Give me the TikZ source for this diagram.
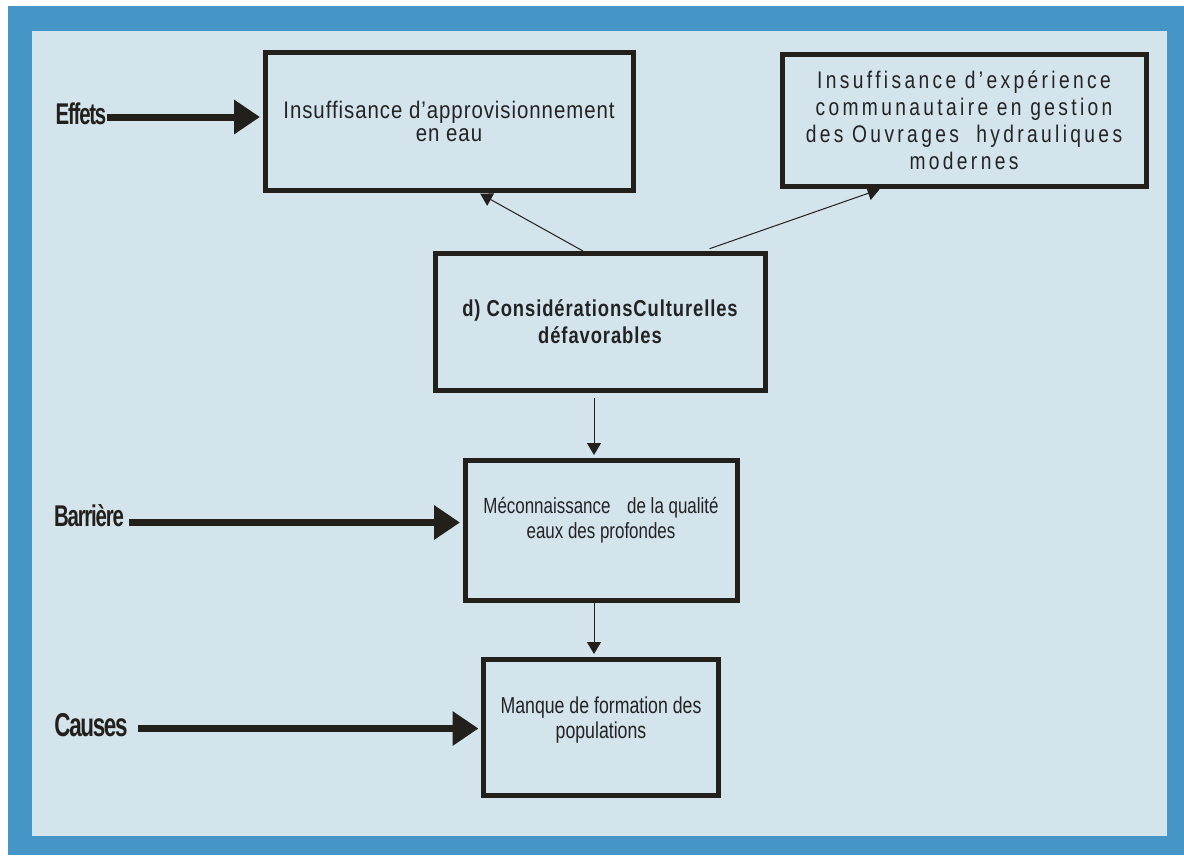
\documentclass[tikz,border=0pt]{standalone}
\usepackage{fontspec}
\setmainfont{Liberation Sans}
\newfontfamily\boxfont[FakeStretch=0.85,LetterSpace=4]{Liberation Sans}
\newfontfamily\spacedfont[FakeStretch=0.8,LetterSpace=14]{Liberation Sans}
\newfontfamily\grasfont[FakeStretch=0.8,LetterSpace=4]{Liberation Sans Bold}
\newfontfamily\narrowfont[FakeStretch=0.77]{Liberation Sans}
\newfontfamily\labfont[FakeStretch=0.68,LetterSpace=-4]{Liberation Sans Bold}
\usepackage{tikz}
\usetikzlibrary{arrows.meta,calc,positioning}
\definecolor{cadre}{RGB}{69,150,198}
\definecolor{fond}{RGB}{211,228,236}
\definecolor{trait}{RGB}{35,31,27}
\definecolor{texte}{RGB}{35,35,35}

\begin{document}
\begin{tikzpicture}[x=1pt,y=-1pt,
  boite/.style={draw=trait, line width=5pt, rectangle, align=center, text=texte, inner sep=0pt},
  lien/.style={draw=trait, line width=1pt, -{Triangle[length=12pt,width=14pt]}},
  gros/.style={draw=trait, line width=7pt, -{Triangle[length=26pt,width=33pt]}},
  etiq/.style={text=trait, font=\labfont\fontsize{30}{30}\selectfont, inner sep=0pt}]
% Cadre
\fill[white] (0,0) rectangle (1184,855);
\fill[cadre] (8,6) rectangle (1184,855);
\fill[fond] (32,31) rectangle (1167,836);
\useasboundingbox (0,0) rectangle (1184,855);

% Boîtes
\node[boite, minimum width=368pt, minimum height=138pt, font=\boxfont\fontsize{24}{23}\selectfont] (b1) at (449,121) {Insuffisance d’approvisionnement\\en eau};
\node[boite, minimum width=364pt, minimum height=132pt, font=\spacedfont\fontsize{24}{27}\selectfont] (b2) at (964,120) {Insuffisance d’expérience\\communautaire en gestion\\des Ouvrages\ \ hydrauliques\\modernes};
\node[boite, minimum width=330pt, minimum height=137pt, font=\grasfont\fontsize{23}{27}\selectfont] (b3) at (600,322) {d) ConsidérationsCulturelles\\défavorables};
\node[boite, minimum width=272pt, minimum height=140pt, text depth=25pt, font=\narrowfont\fontsize{22}{25}\selectfont] (b4) at (601,530) {Méconnaissance\hspace{12pt} de la qualité\\eaux des profondes};
\node[boite, minimum width=235pt, minimum height=136pt, text depth=19pt, font=\narrowfont\fontsize{23}{25}\selectfont] (b5) at (601,727) {Manque de formation des\\populations};

% Etiquettes
\node[etiq] (eff) at (81,114) {Effets};
\node[etiq] (bar) at (89,516) {Barrière};
\node[etiq, font=\labfont\fontsize{33}{33}\selectfont] (cau) at (91,725) {Causes};

% Flèches
\coordinate (axe) at (594,0);
\draw[gros, shorten >=2.5pt] ([yshift=-3pt]eff.east) -- ([yshift=-3pt]eff.east -| b1.west);
\draw[gros, shorten <=5pt, shorten >=2.5pt] ([yshift=-6.5pt]bar.east) -- ([yshift=-6.5pt]bar.east -| b4.west);
\draw[gros, shorten <=10pt, shorten >=2.5pt] ([yshift=-3.5pt]cau.east) -- ([yshift=-3.5pt]cau.east -| b5.west);
\draw[lien, shorten <=5pt, shorten >=2.5pt] (b3.south -| axe) -- (b4.north -| axe);
\draw[lien, shorten >=2.5pt] (b4.south -| axe) -- (b5.north -| axe);
\draw[lien, shorten >=2.5pt] ([xshift=-17pt]b3.north) -- ([xshift=29pt]b1.south);
\draw[lien, shorten <=7pt, shorten >=2.5pt] ([xshift=103pt]b3.north) -- ([xshift=-82pt]b2.south);
\end{tikzpicture}
\end{document}
